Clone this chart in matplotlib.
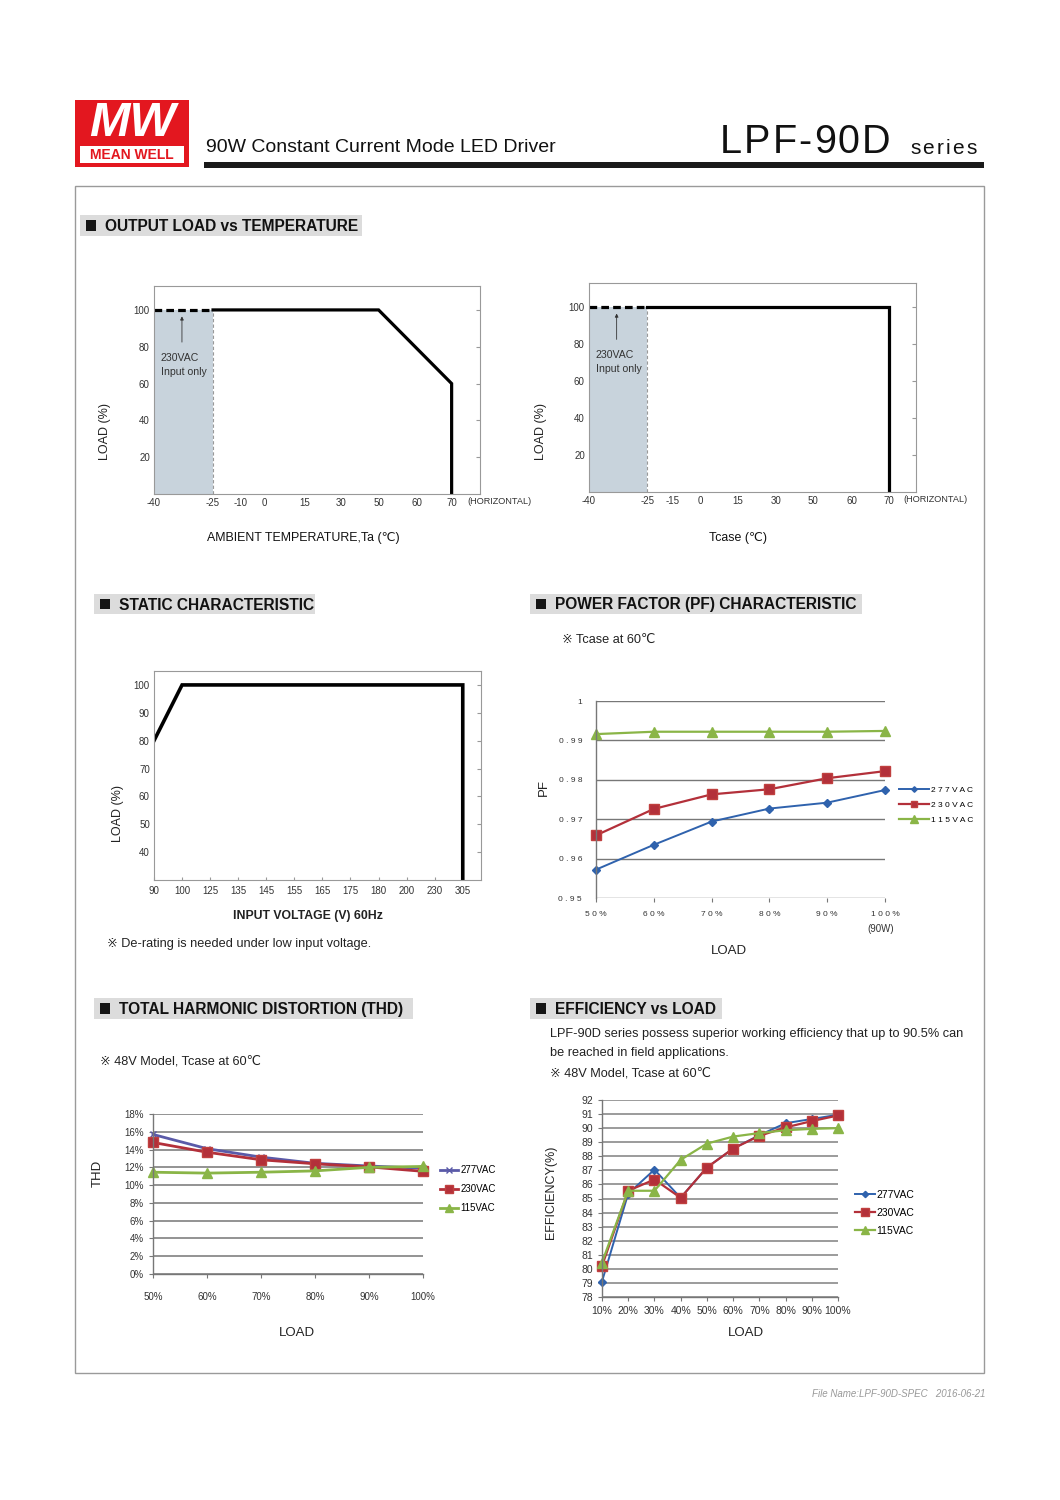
import numpy as np
import matplotlib
matplotlib.use('Agg')
import matplotlib.pyplot as plt
from matplotlib.patches import Rectangle
from matplotlib.ticker import FuncFormatter

plt.rcParams['font.family'] = ['Liberation Sans', 'DejaVu Sans', 'Noto Sans CJK JP']

# ---- data ----
# output load vs ambient temperature
ta_ticks = [-40, -25, -10, 0, 15, 30, 50, 60, 70]
ta_curve_t = [-25, 50, 70, 70]
ta_curve_load = [100, 100, 60, 0]
# output load vs Tcase
tc_ticks = [-40, -25, -15, 0, 15, 30, 50, 60, 70]
tc_curve_t = [-25, 70, 70]
tc_curve_load = [100, 100, 0]
# 230VAC only range
low_t = [-40, -25]
low_load = [100, 100]

# static characteristic
vin_ticks = [90, 100, 125, 135, 145, 155, 165, 175, 180, 200, 230, 305]
vin_curve = [90, 100, 305, 305]
vin_load = [80, 100, 100, 30]

series_names = ['277VAC', '230VAC', '115VAC']

# power factor
pf_load = [50, 60, 70, 80, 90, 100]
pf_277 = [0.9572, 0.9635, 0.9694, 0.9727, 0.9742, 0.9774]
pf_230 = [0.9659, 0.9726, 0.9763, 0.9776, 0.9804, 0.9822]
pf_115 = [0.9916, 0.9922, 0.9922, 0.9922, 0.9922, 0.9924]

# THD (%)
thd_load = [50, 60, 70, 80, 90, 100]
thd_277 = [15.7, 14.1, 13.15, 12.45, 12.15, 11.9]
thd_230 = [14.8, 13.7, 12.85, 12.4, 12.05, 11.55]
thd_115 = [11.45, 11.35, 11.45, 11.6, 12.0, 12.1]

# efficiency (%)
eff_load = [10, 20, 30, 40, 50, 60, 70, 80, 90, 100]
eff_277 = [79.1, 85.35, 87.05, 85.05, 87.2, 88.55, 89.5, 90.35, 90.65, 90.95]
eff_230 = [80.2, 85.55, 86.35, 85.05, 87.2, 88.55, 89.45, 90.05, 90.5, 90.9]
eff_115 = [80.45, 85.55, 85.55, 87.75, 88.9, 89.4, 89.65, 89.85, 89.95, 90.0]

# ---- page ----
W, H = 1060, 1500
fig = plt.figure(figsize=(10.6, 15), dpi=100)


def fx(x):
    return x / W


def fy(y):
    return 1 - y / H


def axes_px(x0, y0, x1, y1):
    return fig.add_axes([fx(x0), fy(y1), (x1 - x0) / W, (y1 - y0) / H])


def text_px(x, y, s, **kw):
    return fig.text(fx(x), fy(y), s, **kw)


def rect_px(x0, y0, x1, y1, **kw):
    fig.add_artist(Rectangle((fx(x0), fy(y1)), (x1 - x0) / W, (y1 - y0) / H,
                             transform=fig.transFigure, **kw))


def tracked(x, y, s, track, **kw):
    r = fig.canvas.get_renderer()
    for ch in s:
        t = text_px(x, y, ch, ha='left', **kw)
        x += t.get_window_extent(renderer=r).width + track


def section(x0, y0, x1, y1, title):
    rect_px(x0, y0, x1, y1, facecolor='#dcdcdc', edgecolor='none')
    rect_px(x0 + 6, y0 + 5, x0 + 16, y1 - 5, facecolor='#151515', edgecolor='none')
    text_px(x0 + 25, (y0 + y1) / 2 + 1, title, fontsize=11.2, fontweight='bold',
            va='center', ha='left', color='#111')


# header / logo
rect_px(75, 100, 189, 167, facecolor='#e3171f', edgecolor='none')
rect_px(80, 146, 184, 163, facecolor='white', edgecolor='none')
text_px(132, 124, 'MW', fontsize=35, color='white', style='italic', fontweight='bold',
        ha='center', va='center')
text_px(132, 155, 'MEAN WELL', fontsize=10, color='#e3171f', fontweight='bold',
        ha='center', va='center')
text_px(206, 147, '90W Constant Current Mode LED Driver', fontsize=14, color='#111',
        va='center', ha='left')
tracked(720, 142, 'LPF-90D', 2.0, fontsize=28.5, color='#111', va='center')
tracked(910, 149, 'series', 2.2, fontsize=15, color='#111', va='center')
rect_px(204, 162, 984, 168, facecolor='#1a1a1a', edgecolor='none')
rect_px(75, 186, 984, 1373, facecolor='none', edgecolor='#9a9a9a', lw=1)
text_px(985, 1394, 'File Name:LPF-90D-SPEC   2016-06-21', fontsize=7, color='#999',
        style='italic', ha='right', va='center')

section(80, 215, 362, 236, 'OUTPUT LOAD vs TEMPERATURE')
section(94, 594, 315, 614, 'STATIC CHARACTERISTIC')
section(530, 594, 862, 614, 'POWER FACTOR (PF) CHARACTERISTIC')
section(94, 998, 413, 1019, 'TOTAL HARMONIC DISTORTION (THD)')
section(530, 998, 722, 1019, 'EFFICIENCY vs LOAD')

note_font = dict(fontsize=9.2, color='#222', va='center', ha='left')
text_px(562, 640, '※ Tcase at 60℃', **note_font)
text_px(107, 944, '※ De-rating is needed under low input voltage.', **note_font)
text_px(100, 1062, '※ 48V Model, Tcase at 60℃', **note_font)
text_px(550, 1034, 'LPF-90D series possess superior working efficiency that up to 90.5% can', **note_font)
text_px(550, 1053, 'be reached in field applications.', **note_font)
text_px(550, 1074, '※ 48V Model, Tcase at 60℃', **note_font)


# ---- derating charts ----
def derating(box, ticks, pos, curve_t, curve_load, xmax, ann_xy):
    ax = axes_px(*box)
    t_ext = ticks + [ticks[-1] + 10]
    p_ext = pos + [pos[-1] + 35]
    ax.set_xscale('function', functions=(lambda v: np.interp(v, t_ext, p_ext),
                                         lambda p: np.interp(p, p_ext, t_ext)))
    ax.fill_between(low_t, 0, low_load, color='#c8d3dc', lw=0)
    ax.plot([low_t[1], low_t[1]], [0, low_load[1]], color='#999', lw=0.8, ls=(0, (3, 2)))
    ax.plot(low_t, low_load, color='k', lw=2.3, dashes=(2.4, 1.3))
    ax.plot(curve_t, curve_load, color='k', lw=2.3, solid_joinstyle='miter')
    ax.annotate('', xy=(ann_xy[0], 98), xytext=(ann_xy[0], 81),
                arrowprops=dict(arrowstyle='-|>', lw=0.6, color='#333', mutation_scale=5))
    ax.text(ann_xy[1], 74, '230VAC', fontsize=7.6, color='#333', va='center')
    ax.text(ann_xy[1], 66.5, 'Input only', fontsize=7.6, color='#333', va='center')
    ax.set_xlim(-40, xmax)
    ax.set_ylim(0, 113)
    ax.set_xticks(ticks)
    ax.set_xticklabels([str(t) for t in ticks])
    ax.set_yticks([20, 40, 60, 80, 100])
    ax.tick_params(axis='x', length=0, labelsize=7, pad=3, labelcolor='#333')
    ax.tick_params(axis='y', left=False, right=True, direction='in', length=3,
                   labelsize=7, color='#999', labelcolor='#333', pad=3)
    for s in ax.spines.values():
        s.set_color('#999')
        s.set_linewidth(0.8)
    return ax


derating((154, 286, 480, 494), ta_ticks, [0, 59, 86.4, 110.4, 150.4, 187.4, 224.4, 262.4, 297.4],
         ta_curve_t, ta_curve_load, 78.1, (-32.9, -38.3))
text_px(467, 502, '(HORIZONTAL)', fontsize=6.6, color='#333', va='center')
text_px(105, 431, 'LOAD (%)', fontsize=9, rotation=90, ha='center', va='center', color='#222')
text_px(303, 538, 'AMBIENT TEMPERATURE,Ta (℃)', fontsize=8.9, ha='center', va='center', color='#111')

derating((589, 283, 916, 492), tc_ticks, [0, 58.4, 84, 111.4, 149, 186.7, 224.4, 262.7, 299.7],
         tc_curve_t, tc_curve_load, 77.8, (-32.9, -38.3))
text_px(903, 500, '(HORIZONTAL)', fontsize=6.6, color='#333', va='center')
text_px(541, 431, 'LOAD (%)', fontsize=9, rotation=90, ha='center', va='center', color='#222')
text_px(738, 538, 'Tcase (℃)', fontsize=8.9, ha='center', va='center', color='#111')

# ---- static characteristic ----
ax = axes_px(154, 671, 481, 880)
idx = list(range(len(vin_ticks))) + [len(vin_ticks)]
v_ext = vin_ticks + [vin_ticks[-1] + 25]
ax.set_xscale('function', functions=(lambda v: np.interp(v, v_ext, idx),
                                     lambda p: np.interp(p, idx, v_ext)))
ax.plot(vin_curve, vin_load, color='k', lw=2.6, solid_joinstyle='miter')
ax.set_xlim(90, 305 + 0.65 * 25)
ax.set_ylim(30, 105)
ax.set_xticks(vin_ticks)
ax.set_xticklabels([str(v) for v in vin_ticks])
ax.set_yticks(range(40, 101, 10))
ax.tick_params(axis='x', direction='in', length=2, color='#999', labelsize=7, labelcolor='#333', pad=4)
ax.tick_params(axis='y', left=False, right=True, direction='in', length=3,
               labelsize=7, color='#999', labelcolor='#333', pad=3)
for s in ax.spines.values():
    s.set_color('#999')
    s.set_linewidth(0.8)
text_px(118, 813, 'LOAD (%)', fontsize=9, rotation=90, ha='center', va='center', color='#222')
text_px(308, 916, 'INPUT VOLTAGE (V) 60Hz', fontsize=8.8, fontweight='bold', ha='center',
        va='center', color='#222')

# ---- line-chart styles ----
styles = [dict(color='#2f62ad', marker='D', ms=4, lw=1.4),
          dict(color='#b3303a', marker='s', ms=7, lw=1.6, mec='#c0403f'),
          dict(color='#8ab547', marker='^', ms=7.5, lw=1.6)]
thd_styles = [dict(color='#5a5aa8', marker='x', ms=5, mew=1, lw=2),
              dict(color='#b3303a', marker='s', ms=7, lw=2, mec='#c0403f'),
              dict(color='#8ab547', marker='^', ms=7.5, lw=2)]


def plain_axes(ax, grid_color, grid_lw):
    ax.grid(axis='y', color=grid_color, lw=grid_lw)
    ax.set_axisbelow(True)
    for k in ('top', 'right'):
        ax.spines[k].set_visible(False)
    for k in ('left', 'bottom'):
        ax.spines[k].set_color('#777')
        ax.spines[k].set_linewidth(1)


# ---- power factor ----
ax = axes_px(596, 701, 885, 898)
for vals, st, name in zip([pf_277, pf_230, pf_115], styles, series_names):
    ax.plot(pf_load, vals, label=' '.join(name), clip_on=False, **st)
ax.set_xlim(50, 100)
ax.set_ylim(0.95, 1.0)
ax.set_xticks(pf_load)
ax.set_yticks(np.arange(0.95, 1.0001, 0.01))
ax.xaxis.set_major_formatter(FuncFormatter(lambda v, p: ' '.join(f'{v:.0f}%')))
ax.yaxis.set_major_formatter(FuncFormatter(lambda v, p: '1' if v > 0.9995 else ' '.join(f'{v:.2f}')))
plain_axes(ax, '#777', 1.0)
ax.spines['bottom'].set_visible(False)
ax.tick_params(axis='y', length=0, labelsize=6, labelcolor='#333', pad=10)
ax.tick_params(axis='x', length=3, color='#777', labelsize=6, labelcolor='#333', pad=6)
ax.legend(loc='center left', bbox_to_anchor=(1.05, 0.473), frameon=False, fontsize=6,
          borderpad=0, borderaxespad=0, handlelength=3.6, handletextpad=0.2,
          labelspacing=0.85, markerscale=0.7)
text_px(881, 929, '(90W)', fontsize=7, color='#333', ha='center', va='center')
text_px(544, 788, 'PF', fontsize=9.5, rotation=90, ha='center', va='center', color='#222')
text_px(729, 951, 'LOAD', fontsize=9.5, ha='center', va='center', color='#222')

# ---- THD ----
ax = axes_px(153, 1114, 423, 1274)
for vals, st, name in zip([thd_277, thd_230, thd_115], thd_styles, series_names):
    ax.plot(thd_load, vals, label=name, clip_on=False, **st)
ax.set_xlim(50, 100)
ax.set_ylim(0, 18)
ax.set_xticks(thd_load)
ax.set_yticks(range(0, 19, 2))
ax.xaxis.set_major_formatter(FuncFormatter(lambda v, p: f'{v:.0f}%'))
ax.yaxis.set_major_formatter(FuncFormatter(lambda v, p: f'{v:.0f}%'))
plain_axes(ax, '#8a8a8a', 1.3)
ax.tick_params(axis='both', length=3, color='#777', labelsize=7, labelcolor='#333')
ax.tick_params(axis='x', pad=10)
ax.legend(loc='center left', bbox_to_anchor=(1.062, 0.53), frameon=False, fontsize=7,
          borderpad=0, borderaxespad=0, handlelength=1.9, handletextpad=0.2,
          labelspacing=0.9, markerscale=0.8)
text_px(98, 1173, 'THD', fontsize=9.5, rotation=90, ha='center', va='center', color='#222')
text_px(297, 1333, 'LOAD', fontsize=9.5, ha='center', va='center', color='#222')

# ---- efficiency ----
ax = axes_px(602, 1100, 838, 1297)
for vals, st, name in zip([eff_277, eff_230, eff_115], styles, series_names):
    ax.plot(eff_load, vals, label=name, clip_on=False, **st)
ax.set_xlim(10, 100)
ax.set_ylim(78, 92)
ax.set_xticks(eff_load)
ax.set_yticks(range(78, 93))
ax.xaxis.set_major_formatter(FuncFormatter(lambda v, p: f'{v:.0f}%'))
plain_axes(ax, '#8a8a8a', 1.2)
ax.tick_params(axis='both', length=3, color='#777', labelsize=7.5, labelcolor='#333')
ax.legend(loc='center left', bbox_to_anchor=(1.071, 0.427), frameon=False, fontsize=7.5,
          borderpad=0, borderaxespad=0, handlelength=1.9, handletextpad=0.2,
          labelspacing=0.75, markerscale=0.8)
text_px(551, 1192, 'EFFICIENCY(%)', fontsize=9, rotation=90, ha='center', va='center', color='#222')
text_px(746, 1333, 'LOAD', fontsize=9.5, ha='center', va='center', color='#222')

fig.savefig('out.png', dpi=100, facecolor='white')
